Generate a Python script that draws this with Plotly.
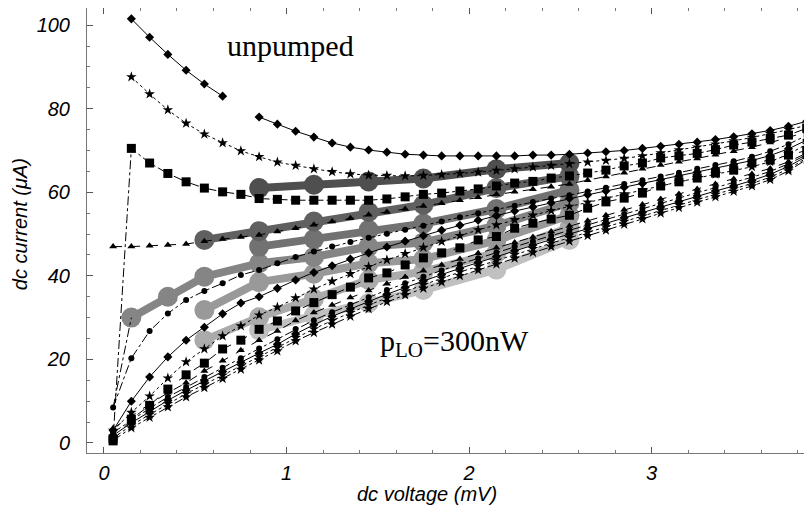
import plotly.graph_objects as go

# ---------------- data ----------------
V = [0.05, 0.15, 0.25, 0.35, 0.45, 0.55, 0.65, 0.75, 0.85, 0.95,
     1.05, 1.15, 1.25, 1.35, 1.45, 1.55, 1.65, 1.75, 1.85, 1.95,
     2.05, 2.15, 2.25, 2.35, 2.45, 2.55, 2.65, 2.75, 2.85, 2.95,
     3.05, 3.15, 3.25, 3.35, 3.45, 3.55, 3.65, 3.75, 3.85]

I_unpumped = [None, 101.5, 97.1, 93.0, 89.2, 85.9, 83.0, None, 78.0, 76.3,
              74.6, 73.2, 71.8, 70.8, 70.1, 69.6, 69.1, 68.9, 68.7, 68.7,
              68.7, 68.7, 68.7, 68.9, 68.9, 69.1, 69.4, 69.7, 70.0, 70.5,
              71.0, 71.5, 72.0, 72.6, 73.3, 74.0, 74.8, 75.8, 77.0]
I_b = [None, 87.6, 83.5, 79.7, 76.5, 73.9, 71.8, 69.9, 68.5, 67.2,
       66.4, 65.6, 64.9, 64.4, 64.1, 64.0, 63.9, 64.0, 64.2, 64.5,
       64.8, 65.2, 65.6, 66.0, 66.4, 66.8, 67.2, 67.6, 68.1, 68.7,
       69.4, 70.1, 70.8, 71.5, 72.3, 73.1, 74.0, 75.0, 76.0]
I_c = [1.0, 70.5, 67.0, 64.5, 62.5, 61.0, 60.1, 59.5, 58.5, 58.3,
       58.1, 58.1, 58.1, 58.1, 58.1, 58.4, 58.9, 59.5, 59.8, 60.3,
       60.8, 61.5, 62.2, 62.6, 63.4, 63.9, 64.6, 65.3, 66.3, 67.0,
       68.2, 68.7, 69.3, 70.2, 71.3, 72.0, 72.9, 73.7, 75.3]
I_d = [47.0, 47.0, 47.2, 47.4, 47.6, 48.3, 48.8, 49.3, 49.8, 50.6,
       51.4, 52.2, 53.0, 53.8, 54.6, 55.3, 56.0, 56.7, 57.4, 58.1,
       58.8, 59.5, 60.1, 60.7, 61.3, 62.0, 62.9, 63.8, 64.7, 65.6,
       66.5, 67.3, 68.1, 69.0, 69.8, 70.8, 71.9, 73.1, 74.5]
I_e = [8.5, 20.3, 26.8, 31.0, 34.2, 36.4, 38.2, 40.2, 41.4, 43.0,
       44.5, 45.8, 47.0, 48.1, 49.1, 50.1, 51.0, 52.0, 53.0, 54.0,
       55.0, 55.9, 56.8, 57.7, 58.5, 59.3, 60.2, 61.1, 62.0, 62.9,
       63.8, 64.7, 65.6, 66.5, 67.4, 68.5, 69.8, 71.5, 73.6]
I_f = [3.0, 10.0, 15.8, 20.6, 24.6, 27.7, 30.9, 33.5, 35.0, 37.0,
       39.0, 40.8, 42.4, 44.0, 45.5, 46.9, 48.3, 49.6, 50.9, 52.1,
       53.3, 54.4, 55.5, 56.5, 57.5, 58.5, 59.4, 60.3, 61.2, 62.1,
       63.0, 63.9, 64.8, 65.7, 66.6, 67.6, 68.8, 70.4, 72.5]
I_g = [3.0, 7.3, 11.2, 15.5, 19.4, 22.5, 25.6, 28.0, 30.6, 32.5,
       34.7, 36.8, 38.7, 40.5, 42.2, 43.8, 45.3, 46.8, 48.2, 49.6,
       51.0, 52.2, 53.4, 54.5, 55.6, 56.6, 57.6, 58.6, 59.6, 60.6,
       61.6, 62.5, 63.4, 64.3, 65.2, 66.1, 67.3, 69.1, 71.5]
I_h = [0.5, 5.7, 9.0, 12.9, 16.3, 19.1, 22.5, 24.6, 27.2, 29.2,
       31.6, 33.6, 35.5, 37.3, 39.5, 40.7, 42.6, 44.3, 45.5, 46.7,
       48.6, 49.4, 51.4, 52.6, 53.6, 54.5, 56.2, 57.7, 58.6, 59.8,
       61.5, 62.5, 63.4, 64.6, 65.3, 67.0, 67.7, 68.9, 70.0]
I_i = [3.5, 6.5, 9.3, 12.0, 14.4, 17.2, 19.7, 22.2, 24.6, 26.8,
       29.3, 31.2, 33.0, 34.8, 36.5, 38.1, 39.7, 41.2, 42.6, 44.0,
       45.4, 46.7, 48.0, 49.3, 50.6, 51.9, 53.2, 54.5, 55.8, 57.1,
       58.4, 59.6, 60.8, 62.0, 63.2, 64.4, 65.7, 67.3, 69.4]
I_j = [2.5, 5.5, 8.3, 11.0, 13.4, 15.8, 18.0, 20.3, 22.6, 24.8,
       27.3, 29.4, 31.3, 33.1, 34.9, 36.6, 38.2, 39.8, 41.3, 42.8,
       44.2, 45.6, 47.0, 48.3, 49.6, 50.9, 52.2, 53.5, 54.8, 56.1,
       57.4, 58.7, 59.9, 61.1, 62.3, 63.6, 65.0, 66.8, 69.0]
I_k = [1.8, 4.8, 7.5, 10.2, 12.6, 14.9, 17.1, 19.3, 21.5, 23.6,
       26.1, 28.3, 30.3, 32.1, 33.9, 35.6, 37.2, 38.8, 40.3, 41.8,
       43.2, 44.6, 46.0, 47.4, 48.7, 50.0, 51.3, 52.6, 53.9, 55.2,
       56.5, 57.8, 59.1, 60.3, 61.5, 62.8, 64.3, 66.2, 68.6]
I_l = [1.2, 4.2, 6.8, 9.4, 11.8, 14.0, 16.2, 18.4, 20.6, 22.8,
       25.2, 27.3, 29.3, 31.2, 33.0, 34.7, 36.3, 37.9, 39.4, 40.9,
       42.3, 43.7, 45.1, 46.5, 47.8, 49.1, 50.4, 51.7, 53.0, 54.3,
       55.7, 57.0, 58.3, 59.5, 60.8, 62.1, 63.6, 65.6, 68.2]
I_m = [0.6, 3.6, 6.1, 8.6, 11.0, 13.2, 15.4, 17.6, 19.8, 22.0,
       24.4, 26.4, 28.4, 30.3, 32.1, 33.8, 35.4, 37.0, 38.5, 40.0,
       41.4, 42.8, 44.2, 45.6, 47.0, 48.3, 49.6, 50.9, 52.3, 53.6,
       55.0, 56.3, 57.6, 58.9, 60.2, 61.5, 63.0, 65.1, 67.9]

# thick grey curves (large circles)
G1_v = [0.85, 1.15, 1.45, 1.75, 2.15, 2.55]
G1_i = [61.0, 61.8, 62.6, 63.3, 65.5, 67.0]
G2_v = [0.55, 0.85, 1.15, 1.45, 1.75, 2.15, 2.55]
G2_i = [48.6, 50.7, 53.0, 55.3, 57.0, 61.0, 63.8]
G3_v = [0.85, 1.15, 1.45, 1.75, 2.15, 2.55]
G3_i = [47.0, 48.8, 51.0, 52.5, 56.0, 60.5]
G4_v = [0.15, 0.35, 0.55, 0.85, 1.15, 1.45, 1.75, 2.15, 2.55]
G4_i = [30.0, 35.0, 39.8, 43.0, 44.5, 47.0, 48.0, 52.0, 57.5]
G5_v = [0.55, 0.85, 1.15, 1.45, 1.75, 2.15, 2.55]
G5_i = [31.8, 38.5, 40.5, 43.0, 44.0, 48.5, 54.5]
G6_v = [0.55, 0.85, 1.15, 1.45, 1.75, 2.15, 2.55]
G6_i = [24.6, 30.1, 34.5, 39.0, 41.0, 45.5, 51.5]
G7_v = [0.85, 1.15, 1.45, 1.75, 2.15, 2.55]
G7_i = [27.0, 30.5, 33.5, 36.6, 41.5, 48.6]

x_ticks = [0, 1, 2, 3]
y_ticks = [0, 20, 40, 60, 80, 100]

# ---------------- figure ----------------
fig = go.Figure()

greys = [
    (G1_v, G1_i, "#4f4f4f"),
    (G2_v, G2_i, "#606060"),
    (G3_v, G3_i, "#727272"),
    (G4_v, G4_i, "#858585"),
    (G5_v, G5_i, "#999999"),
    (G6_v, G6_i, "#ababab"),
    (G7_v, G7_i, "#c0c0c0"),
]
for gv, gi, col in reversed(greys):
    fig.add_trace(go.Scatter(
        x=gv, y=gi, mode="lines+markers",
        line=dict(color=col, width=8),
        marker=dict(symbol="circle", size=20, color=col),
        showlegend=False, hoverinfo="skip"))

# thin dash-dot link from the low-bias point to the first grey circle
fig.add_trace(go.Scatter(
    x=[V[0], G4_v[0]], y=[I_e[0], G4_i[0]], mode="lines",
    line=dict(color="black", width=1, dash="dashdot"),
    showlegend=False, hoverinfo="skip"))

blacks = [
    (I_unpumped, "diamond", 7, "solid"),
    (I_b, "star", 8, "dot"),
    (I_c, "square", 9, "dashdot"),
    (I_d, "triangle-up", 7, "dash"),
    (I_e, "circle", 6, "dashdot"),
    (I_f, "diamond", 7, "solid"),
    (I_g, "star", 8, "dot"),
    (I_h, "square", 9, "dash"),
    (I_i, "triangle-up", 7, "dash"),
    (I_j, "circle", 6, "dashdot"),
    (I_k, "diamond", 7, "solid"),
    (I_l, "star", 8, "dot"),
    (I_m, "star", 8, "dashdot"),
]
for iy, sym, sz, dash in blacks:
    fig.add_trace(go.Scatter(
        x=V, y=iy, mode="lines+markers",
        line=dict(color="black", width=1, dash=dash),
        marker=dict(symbol=sym, size=sz, color="black"),
        showlegend=False, hoverinfo="skip"))

sans = "Liberation Sans, Arial, sans-serif"
axis_font = dict(family=sans, size=20, color="black")

fig.update_xaxes(
    range=[-0.093, 3.879], tickvals=x_ticks,
    ticktext=["<i>%d</i>" % t for t in x_ticks],
    ticks="inside", ticklen=6, tickcolor="#555",
    minor=dict(dtick=0.2, ticks="inside", ticklen=3, tickcolor="#777"),
    showline=True, linecolor="#777", linewidth=1, mirror="ticks",
    showgrid=False, zeroline=False, tickfont=axis_font, ticklabelstandoff=2)
fig.update_yaxes(
    range=[-2.4, 104.1], tickvals=y_ticks,
    ticktext=["<i>%d</i>" % t for t in y_ticks],
    ticks="inside", ticklen=6, tickcolor="#555",
    minor=dict(dtick=5, ticks="inside", ticklen=3, tickcolor="#777"),
    showline=True, linecolor="#777", linewidth=1, mirror="ticks",
    showgrid=False, zeroline=False, tickfont=axis_font, ticklabelstandoff=12)

fig.add_annotation(text="<i>dc voltage</i> <i>(mV)</i>", xref="paper", yref="paper",
                   x=0.469, y=-0.092, showarrow=False, yanchor="middle",
                   font=dict(family=sans, size=20, color="black"))
fig.add_annotation(text="<i>dc current (μA)</i>", xref="paper", yref="paper",
                   x=-0.092, y=0.515, showarrow=False, textangle=-90,
                   xanchor="center", yanchor="middle",
                   font=dict(family=sans, size=20, color="black"))

fig.add_annotation(text="unpumped", x=1.02, y=95.2, showarrow=False,
                   font=dict(family="Liberation Serif, Times New Roman, serif",
                             size=30, color="black"))
fig.add_annotation(text="p<sub>LO</sub>=300nW", x=1.5, y=24.0, showarrow=False,
                   xanchor="left",
                   font=dict(family="Liberation Serif, Times New Roman, serif",
                             size=30, color="black"))

# the page body has an 8 px default margin, so the figure is shrunk and
# its margins trimmed to keep the plot frame where the reference has it
fig.update_layout(
    width=804, height=509,
    margin=dict(l=79, r=0, t=0, b=64),
    paper_bgcolor="white", plot_bgcolor="white",
    showlegend=False)

fig.write_html("out.html")
